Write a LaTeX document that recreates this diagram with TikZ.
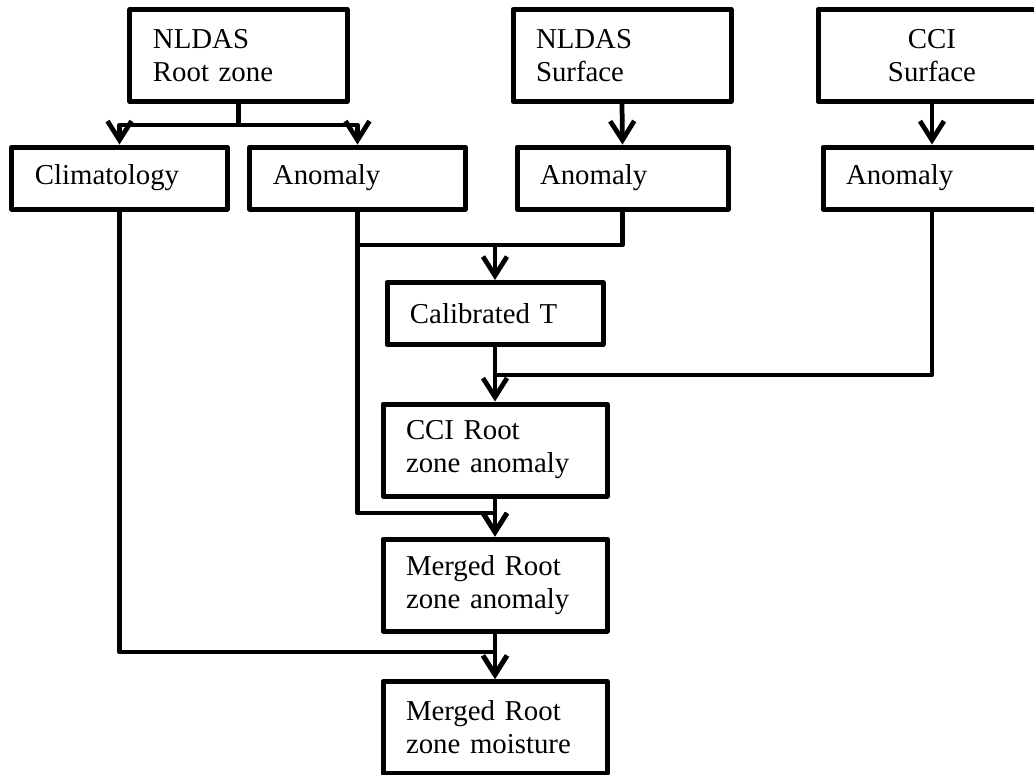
\documentclass[tikz,border=0pt]{standalone}
\usepackage{fontspec}
\setmainfont{Liberation Serif}
\usetikzlibrary{arrows.meta}

\begin{document}
\begin{tikzpicture}
    [
        x=0.2mm, y=-0.2mm,
        font=\fontsize{16.4pt}{18.8pt}\selectfont,
        box/.style={draw, line width=1mm, line join=round, inner xsep=4.6mm, inner ysep=0pt, text width=#1, align=left},
        single/.style={minimum height=12.4mm},
        double/.style={minimum height=18.4mm},
        conn/.style={line width=0.95mm, line join=round},
        arr/.style={conn, -{Straight Barb[length=3.8mm, width=4.8mm, line width=0.95mm]}}
    ]
        \useasboundingbox (0,0) rectangle (1034,774);
        \clip (0,0) rectangle (1034,774);
        % =========================================================================
        % NODES
        % =========================================================================
        % --- Row 1 ---
        \node [box=34.2mm, double] (rootzone) at (238.5,55.5) {NLDAS\\Root zone};
        \node [box=34.4mm, double] (nsurf) at (622,55.5) {NLDAS\\Surface};
        \node [box=36.4mm, double, align=center] (csurf) at (932,55.5) {CCI\\Surface};
        % --- Row 2 ---
        \node [box=33.8mm, single] (clim) at (119.5,178) {Climatology};
        \node [box=33.8mm, single] (anom1) at (357.5,178) {Anomaly};
        \node [box=33mm, single] (anom2) at (622.5,178) {Anomaly};
        \node [box=34.4mm, single] (anom3) at (932,178) {Anomaly};
        % --- Middle column ---
        \node [box=34mm, single] (calib) at (495,313.5) {Calibrated T};
        \node [box=35.6mm, double] (cciroot) at (495,450) {CCI Root\\zone anomaly};
        \node [box=35.6mm, double] (mergedanom) at (495,585) {Merged Root\\zone anomaly};
        \node [box=35.6mm, double] (mergedmoist) at (495,727.5) {Merged Root\\zone moisture};
        % --- Junctions ---
        \coordinate (split1) at (238.5,125);
        \coordinate (join1) at (495,245);
        \coordinate (join2) at (495,375);
        \coordinate (join3) at (495,513);
        \coordinate (join4) at (495,652);

        % =========================================================================
        % PATHS
        % =========================================================================
        % --- TOP ROW ---
        \draw [arr] (rootzone.south) -- (split1) -| (clim.north);
        \draw [arr] (split1) -| (anom1.north);
        \draw [arr] (nsurf.south) -- (anom2.north);
        \draw [arr] (csurf.south) -- (anom3.north);
        % --- MIDDLE COLUMN ---
        \draw [conn] (anom1.south) |- (join1);
        \draw [arr] (anom2.south) |- (join1) -- (calib.north);
        \draw [conn] (anom3.south) |- (join2);
        \draw [arr] (calib.south) -- (cciroot.north);
        \draw [arr] (anom1.south) |- (join3) -- (mergedanom.north);
        \draw [arr] (cciroot.south) -- (mergedanom.north);
        \draw [arr] (clim.south) |- (join4) -- (mergedmoist.north);
        \draw [arr] (mergedanom.south) -- (mergedmoist.north);
    \end{tikzpicture}
\end{document}
